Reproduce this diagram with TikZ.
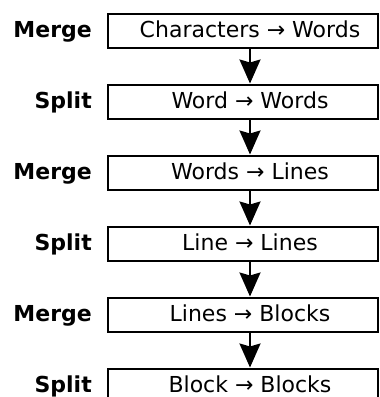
\documentclass[tikz,border=0pt]{standalone}
\usepackage{fontspec}
\setmainfont{DejaVu Sans}
\usetikzlibrary{arrows.meta}
\begin{document}
\begin{tikzpicture}[x=1pt,y=-1pt,
  stage/.style={draw,line width=2pt,minimum width=270pt,minimum height=34pt,inner sep=0pt,anchor=north west},
  txt/.style={font=\fontsize{22}{26}\selectfont,inner sep=0pt,anchor=base},
  kind/.style={font=\fontsize{22}{26}\selectfont\bfseries,anchor=base east,inner sep=0pt},
  flow/.style={line width=2pt,-{Stealth[length=24pt,width=21pt,inset=3pt]}}]
\useasboundingbox (0,0) rectangle (380,397);
\foreach \i/\k/\t in {0/Merge/Characters → Words,1/Split/Word → Words,2/Merge/Words → Lines,3/Split/Line → Lines,4/Merge/Lines → Blocks,5/Split/Block → Blocks}{
  \node[stage] (b\i) at (107,{12.5+71*\i}) {};
  \node[txt] (t\i) at (250,{37.3+71*\i}) {\t};
  \node[kind] (k\i) at (92,{37.3+71*\i}) {\k};
}
\foreach \i/\j in {0/1,1/2,2/3,3/4,4/5}{
  \draw[flow] (250,0 |- b\i.south) -- (250,0 |- b\j.north);
}
\end{tikzpicture}
\end{document}
